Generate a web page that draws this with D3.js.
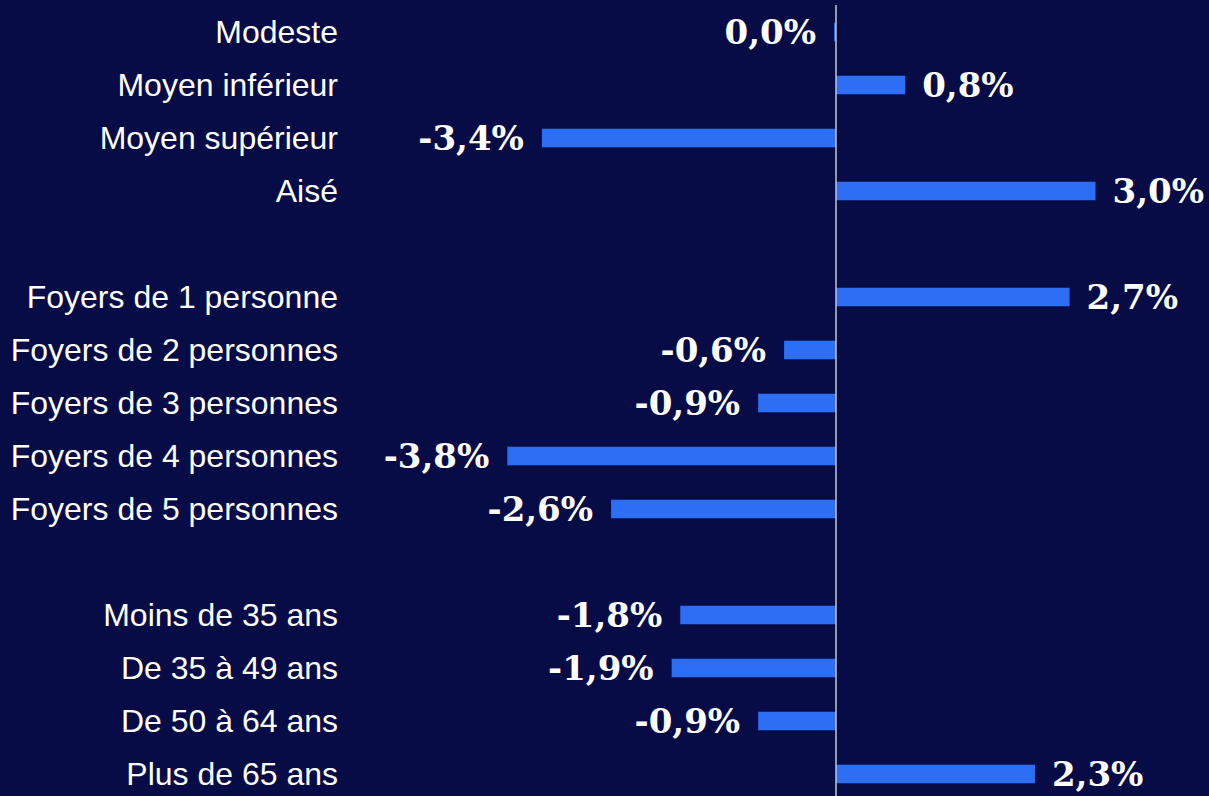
<!DOCTYPE html>
<html>
<head>
<meta charset="utf-8">
<script src="https://cdn.jsdelivr.net/npm/d3@7"></script>
<style>
  html, body { margin: 0; padding: 0; background: #070b46; }
  svg { display: block; }
</style>
</head>
<body>
<svg id="chart" width="1209" height="796"></svg>
<script>
// Évolution par catégorie de foyer, en %
const revenus = ["Modeste", "Moyen inférieur", "Moyen supérieur", "Aisé"];
const revenusValues = [0.0, 0.8, -3.4, 3.0];

const foyers = ["Foyers de 1 personne", "Foyers de 2 personnes", "Foyers de 3 personnes",
                "Foyers de 4 personnes", "Foyers de 5 personnes"];
const foyersValues = [2.7, -0.6, -0.9, -3.8, -2.6];

const ages = ["Moins de 35 ans", "De 35 à 49 ans", "De 50 à 64 ans", "Plus de 65 ans"];
const agesValues = [-1.8, -1.9, -0.9, 2.3];

const xDomain = [-4, 4];

// Rows of the chart, with an empty row between the groups
const groups = [[revenus, revenusValues], [foyers, foyersValues], [ages, agesValues]];
const rows = [];
groups.forEach(([cats, vals], gi) => {
  if (gi > 0) rows.push({ id: "gap" + gi, label: null, value: null });
  cats.forEach((c, i) => rows.push({ id: c, label: c, value: vals[i] }));
});
const data = rows.filter(r => r.label !== null);

const width = 1209, height = 796;
const svg = d3.select("#chart");

svg.append("rect").attr("width", width).attr("height", height).attr("fill", "#070b46");

const zeroX = 836;
const x = d3.scaleLinear().domain(xDomain).range([zeroX - 346, zeroX + 346]);
const y = d3.scaleBand().domain(rows.map(r => r.id)).range([5.5, 800.5]).paddingInner(0.65).paddingOuter(0.325);

const locale = d3.formatLocale({ decimal: ",", thousands: " ", grouping: [3], currency: ["", " €"], minus: "-" });
const fmt = v => locale.format(".1f")(v) + "%";

const barColor = "#2d6ff4";

// Bars (a zero value keeps a thin stub to the left of the axis)
svg.append("g").selectAll("rect").data(data).join("rect")
  .attr("x", d => d.value > 0 ? x(0) : Math.min(x(d.value), x(0) - 2))
  .attr("width", d => Math.max(2, Math.abs(x(d.value) - x(0))))
  .attr("y", d => y(d.id))
  .attr("height", y.bandwidth())
  .attr("fill", barColor);

// Zero axis
svg.append("line")
  .attr("x1", x(0)).attr("x2", x(0))
  .attr("y1", 5).attr("y2", height)
  .attr("stroke", "#c4c6d2").attr("stroke-width", 1.5);

const cy = d => y(d.id) + y.bandwidth() / 2;

// Category labels
svg.append("g").selectAll("text").data(data).join("text")
  .attr("x", 338)
  .attr("y", d => cy(d) + 11)
  .attr("text-anchor", "end")
  .attr("fill", "#ffffff")
  .attr("font-family", "'Liberation Sans', Arial, sans-serif")
  .attr("font-size", 32)
  .text(d => d.label);

// Value labels
svg.append("g").selectAll("text").data(data).join("text")
  .attr("x", d => d.value > 0 ? x(d.value) + 17 : Math.min(x(d.value), x(0) - 2) - 18)
  .attr("y", d => cy(d) + 12)
  .attr("text-anchor", d => d.value > 0 ? "start" : "end")
  .attr("fill", "#ffffff")
  .attr("font-family", "'DejaVu Serif', Georgia, serif")
  .attr("font-weight", "bold")
  .attr("font-size", 34)
  .text(d => fmt(d.value));
</script>
</body>
</html>
